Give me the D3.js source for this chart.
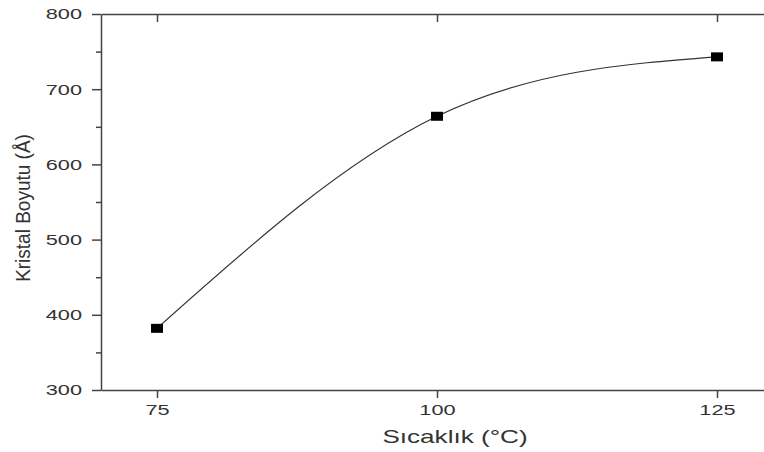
<!DOCTYPE html>
<meta charset="utf-8">

<style>
  body { margin: 0; background: #fff; }
  text { font-family: "Liberation Sans", Arial, sans-serif; fill: #333; }
  .axis path, .axis line { stroke: #444; stroke-width: 1.5; }
</style>

<svg class="chart"></svg>

<script src="https://d3js.org/d3.v7.min.js"></script>
<script>

  // chart values
  var temps  = [75, 100, 125];
  var sizes  = [382, 664, 743];
  var xTicks = [75, 100, 125];
  var yTicks = [300, 400, 500, 600, 700, 800];
  var yMinor = [350, 450, 550, 650, 750];

  var width  = 764;
  var height = 452;
  var stretch = 1.45;   // the source picture is squeezed wide

  var chart = d3.select(".chart")
      .attr("width", width)
      .attr("height", height);

  var x = d3.scaleLinear().domain([70, 130]).range([101, 773]);
  var y = d3.scaleLinear().domain([300, 800]).range([390, 14]);

  // minor ticks first so major ones sit on top
  chart.append("g")
      .attr("class", "axis")
      .attr("transform", "translate(" + x(70) + ",0)")
      .call(d3.axisLeft(y).tickValues(yMinor).tickSize(5).tickFormat(""))
      .select(".domain").remove();

  chart.append("g")
      .attr("class", "axis")
      .attr("transform", "translate(" + x(130) + ",0)")
      .call(d3.axisLeft(y).tickValues(yMinor).tickSize(-5).tickFormat(""))
      .select(".domain").remove();

  var yAxis = chart.append("g")
      .attr("class", "axis")
      .attr("transform", "translate(" + x(70) + ",0)")
      .call(d3.axisLeft(y).tickValues(yTicks).tickSize(9).tickPadding(10).tickSizeOuter(0));

  yAxis.selectAll("text")
      .attr("x", -19 / stretch)
      .attr("transform", "scale(" + stretch + ",1)")
      .style("font-size", "15px");

  chart.append("g")
      .attr("class", "axis")
      .attr("transform", "translate(" + x(130) + ",0)")
      .call(d3.axisLeft(y).tickValues(yTicks).tickSize(-9).tickSizeOuter(0).tickFormat(""));

  var xAxis = chart.append("g")
      .attr("class", "axis")
      .attr("transform", "translate(0," + y(300) + ")")
      .call(d3.axisBottom(x).tickValues(xTicks).tickSize(8).tickPadding(6).tickSizeOuter(0));

  xAxis.selectAll("text")
      .attr("transform", "scale(" + stretch + ",1)")
      .style("font-size", "15px");

  chart.append("g")
      .attr("class", "axis")
      .attr("transform", "translate(0," + y(800) + ")")
      .call(d3.axisTop(x).tickValues(xTicks).tickSize(-8).tickSizeOuter(0).tickFormat(""));

  // axis titles
  chart.append("text")
      .attr("transform", "translate(455,443) scale(" + stretch + ",1)")
      .attr("text-anchor", "middle")
      .style("font-size", "18px")
      .text("Sıcaklık (°C)");

  chart.append("text")
      .attr("transform", "translate(30,208) scale(1.05,1) rotate(-90)")
      .attr("text-anchor", "middle")
      .style("font-size", "19px")
      .text("Kristal Boyutu (Å)");

  // fitted curve
  var points = temps.map(function(t, i) { return [t, sizes[i]]; });

  var line = d3.line()
      .x(function(d) { return x(d[0]); })
      .y(function(d) { return y(d[1]); })
      .curve(d3.curveNatural);

  chart.append("path")
      .datum(points)
      .attr("d", line)
      .attr("fill", "none")
      .attr("stroke", "#333")
      .attr("stroke-width", 1.2);

  chart.append("g")
    .selectAll("rect")
    .data(points)
    .enter().append("rect")
      .attr("x", function(d) { return x(d[0]) - 6; })
      .attr("y", function(d) { return y(d[1]) - 4.5; })
      .attr("width", 12)
      .attr("height", 9)
      .attr("fill", "#000");

</script>
